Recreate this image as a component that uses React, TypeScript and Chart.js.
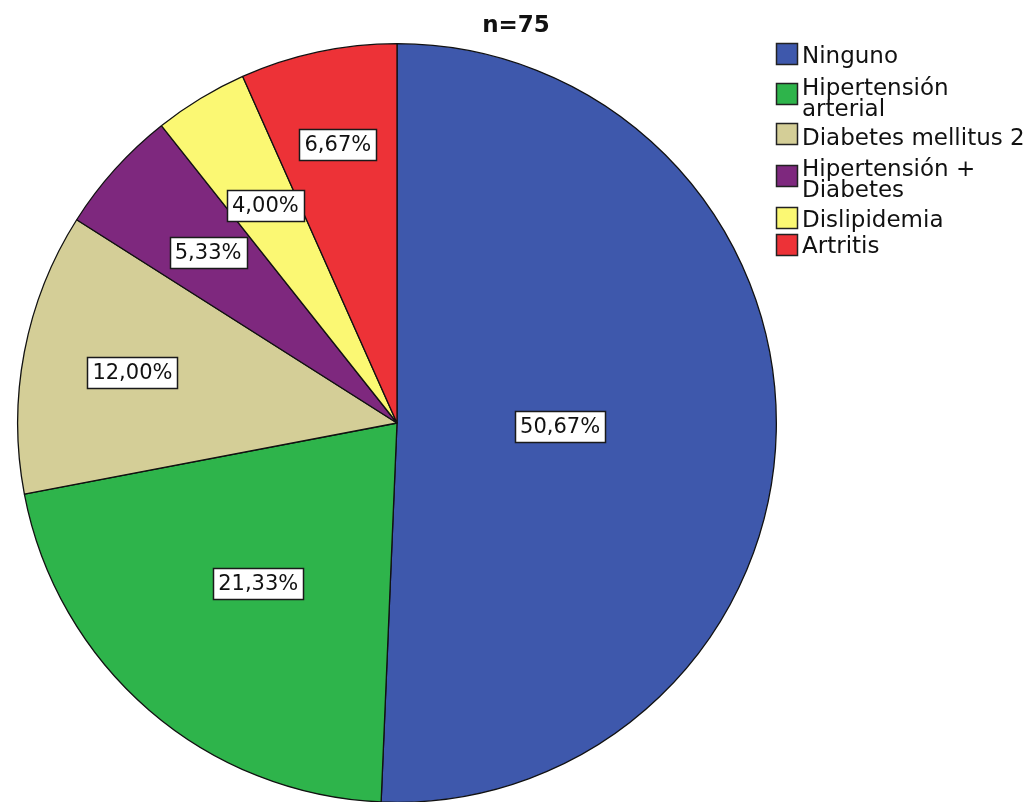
import React, { useEffect, useRef } from "react";
import { Chart, registerables } from "chart.js";

Chart.register(...registerables);

const categories = [
  "Ninguno",
  "Hipertensión arterial",
  "Diabetes mellitus 2",
  "Hipertensión + Diabetes",
  "Dislipidemia",
  "Artritis",
];
const legendLines = [
  ["Ninguno"],
  ["Hipertensión", "arterial"],
  ["Diabetes mellitus 2"],
  ["Hipertensión +", "Diabetes"],
  ["Dislipidemia"],
  ["Artritis"],
];
const counts = [38, 16, 9, 4, 3, 5];
const percentLabels = ["50,67%", "21,33%", "12,00%", "5,33%", "4,00%", "6,67%"];
const colors = ["#3E58AC", "#2EB44B", "#D4CE97", "#7E287E", "#FBF873", "#ED3237"];
const titleText = "n=75";

// style: radial position of each value label as a fraction of the radius
const labelRadius = [0.43, 0.56, 0.71, 0.67, 0.67, 0.75];
// style: legend layout
const legendSwatchTop = [43, 83, 123, 165, 207, 234];
const legendBaselines = [[63], [95, 116], [145], [176, 197], [227], [253]];

const FONT = "DejaVu Sans";

const overlayPlugin = {
  id: "overlay",
  afterDatasetsDraw(chart: any) {
    const ctx = chart.ctx;
    const meta = chart.getDatasetMeta(0);
    ctx.save();
    ctx.font = `21px "${FONT}"`;
    ctx.textAlign = "center";
    ctx.textBaseline = "middle";
    meta.data.forEach((arc: any, i: number) => {
      const p = arc.getProps(["x", "y", "startAngle", "endAngle", "outerRadius"], true);
      const mid = (p.startAngle + p.endAngle) / 2;
      const r = p.outerRadius * labelRadius[i];
      const cx = p.x + Math.cos(mid) * r;
      const cy = p.y + Math.sin(mid) * r;
      const txt = percentLabels[i];
      const w = ctx.measureText(txt).width + 10;
      const h = 31;
      ctx.fillStyle = "#ffffff";
      ctx.fillRect(Math.round(cx - w / 2), Math.round(cy - h / 2), Math.round(w), h);
      ctx.strokeStyle = "#1a1a1a";
      ctx.lineWidth = 1.5;
      ctx.strokeRect(Math.round(cx - w / 2) + 0.5, Math.round(cy - h / 2) + 0.5, Math.round(w), h);
      ctx.fillStyle = "#111111";
      ctx.fillText(txt, cx, cy + 1);
    });

    // title
    ctx.font = `bold 23px "${FONT}"`;
    ctx.textAlign = "center";
    ctx.textBaseline = "alphabetic";
    ctx.fillStyle = "#111111";
    ctx.fillText(titleText, 516, 32);

    // legend
    ctx.font = `23px "${FONT}"`;
    ctx.textAlign = "left";
    legendLines.forEach((lines, i) => {
      ctx.fillStyle = colors[i];
      ctx.fillRect(776, legendSwatchTop[i], 22, 22);
      ctx.strokeStyle = "#222222";
      ctx.lineWidth = 1.5;
      ctx.strokeRect(776.5, legendSwatchTop[i] + 0.5, 21, 21);
      ctx.fillStyle = "#111111";
      lines.forEach((ln, j) => {
        ctx.fillText(ln, 802, legendBaselines[i][j]);
      });
    });
    ctx.restore();
  },
};

export default function App() {
  const ref = useRef<HTMLCanvasElement | null>(null);
  useEffect(() => {
    if (!ref.current) return;
    const chart = new Chart(ref.current, {
      type: "pie",
      data: {
        labels: categories,
        datasets: [
          {
            data: counts,
            backgroundColor: colors,
            borderColor: "#111111",
            borderWidth: 1.3,
          },
        ],
      },
      options: {
        responsive: false,
        animation: false,
        devicePixelRatio: 1,
        layout: { padding: { left: 17, right: 257, top: 43, bottom: 27 } },
        plugins: {
          legend: { display: false },
          title: { display: false },
          tooltip: { enabled: false },
        },
      },
      plugins: [overlayPlugin],
    });
    return () => chart.destroy();
  }, []);
  return (
    <div
      style={{
        position: "fixed",
        left: 0,
        top: 0,
        width: 1034,
        height: 802,
        overflow: "hidden",
        background: "#ffffff",
      }}
    >
      <canvas ref={ref} width={1034} height={830} style={{ display: "block" }} />
    </div>
  );
}
